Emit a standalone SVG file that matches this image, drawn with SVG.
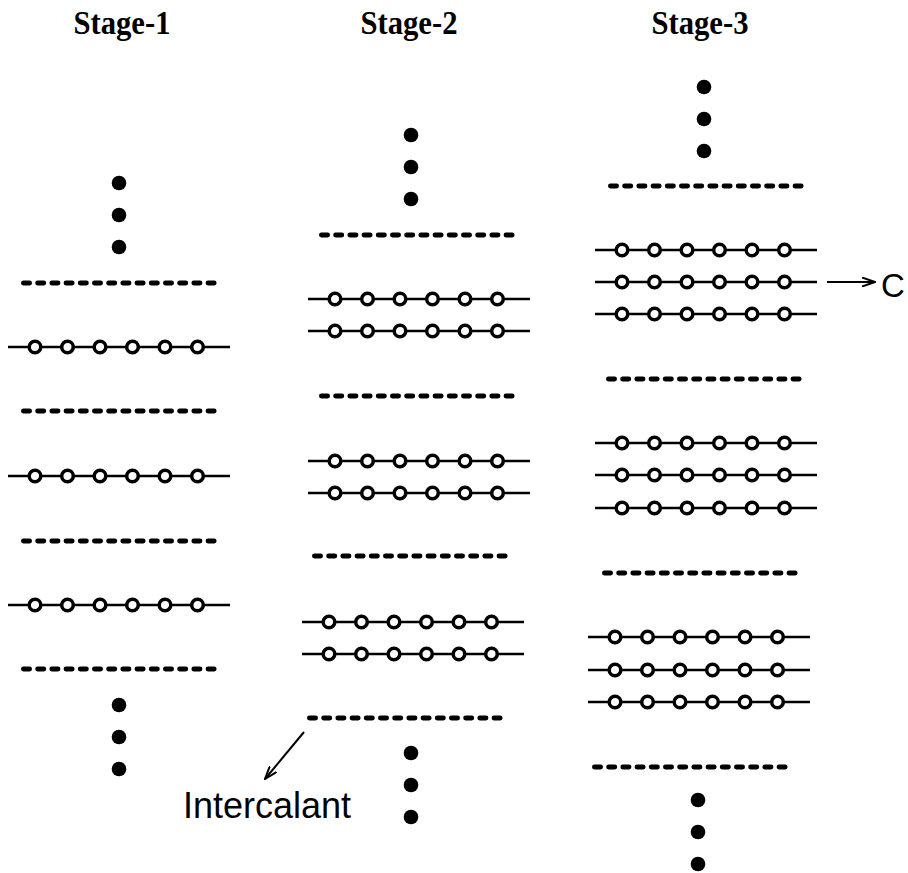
<svg xmlns="http://www.w3.org/2000/svg" xmlns:xlink="http://www.w3.org/1999/xlink" width="908" height="873" viewBox="0 0 908 873">
  <style>
    .title { font-family: "Liberation Serif", "Times New Roman", serif; font-weight: bold; font-size: 34px; fill: #000; text-anchor: middle; }
    .label { font-family: "Liberation Sans", Arial, sans-serif; fill: #000; }
    .gap { stroke: #000; stroke-width: 4.8; stroke-linecap: round; stroke-dasharray: 6.2 8; fill: none; }
    .host { stroke: #000; stroke-width: 2.5; fill: none; }
    .atom { stroke: #000; stroke-width: 3.5; fill: #fff; }
    .dot { fill: #000; }
    .arrow { stroke: #000; stroke-width: 2; fill: none; marker-end: url(#head); }
  </style>
  <defs>
    <!-- open arrowhead -->
    <marker id="head" viewBox="0 0 14 10" refX="13" refY="5" markerWidth="14" markerHeight="10" markerUnits="userSpaceOnUse" orient="auto">
      <path d="M0,0.5 L13,5 L0,9.5" fill="none" stroke="#000" stroke-width="2"/>
    </marker>
    <!-- host layer: line with six atoms -->
    <g id="layer">
      <line class="host" x1="0" y1="0" x2="222" y2="0"/>
      <circle class="atom" cx="27" cy="0" r="5.8"/>
      <circle class="atom" cx="59.5" cy="0" r="5.8"/>
      <circle class="atom" cx="92" cy="0" r="5.8"/>
      <circle class="atom" cx="124.5" cy="0" r="5.8"/>
      <circle class="atom" cx="157" cy="0" r="5.8"/>
      <circle class="atom" cx="189.5" cy="0" r="5.8"/>
    </g>
    <!-- intercalant gallery -->
    <line id="gallery" class="gap" x1="2.4" y1="0" x2="193.2" y2="0"/>
    <!-- vertical ellipsis -->
    <g id="more">
      <circle class="dot" cx="0" cy="0" r="7.3"/>
      <circle class="dot" cx="0" cy="32" r="7.3"/>
      <circle class="dot" cx="0" cy="64" r="7.3"/>
    </g>
  </defs>

  <g id="stage-1">
    <text class="title" x="122" y="34" textLength="97" lengthAdjust="spacingAndGlyphs">Stage-1</text>
    <use xlink:href="#more" x="119" y="183"/>
    <use xlink:href="#gallery" x="21" y="283"/>
    <use xlink:href="#layer" x="8" y="347"/>
    <use xlink:href="#gallery" x="21" y="411"/>
    <use xlink:href="#layer" x="8" y="476"/>
    <use xlink:href="#gallery" x="21" y="541"/>
    <use xlink:href="#layer" x="8" y="605"/>
    <use xlink:href="#gallery" x="21" y="669"/>
    <use xlink:href="#more" x="119" y="705"/>
  </g>

  <g id="stage-2">
    <text class="title" x="409" y="34" textLength="97" lengthAdjust="spacingAndGlyphs">Stage-2</text>
    <use xlink:href="#more" x="411" y="135"/>
    <use xlink:href="#gallery" x="319" y="235"/>
    <use xlink:href="#layer" x="308" y="299"/>
    <use xlink:href="#layer" x="308" y="331"/>
    <use xlink:href="#gallery" x="319" y="396"/>
    <use xlink:href="#layer" x="308" y="461"/>
    <use xlink:href="#layer" x="308" y="493"/>
    <use xlink:href="#gallery" x="312" y="556"/>
    <use xlink:href="#layer" x="302" y="622"/>
    <use xlink:href="#layer" x="302" y="654"/>
    <use xlink:href="#gallery" x="307" y="718"/>
    <use xlink:href="#more" x="411" y="753"/>
  </g>

  <g id="stage-3">
    <text class="title" x="700" y="34" textLength="97" lengthAdjust="spacingAndGlyphs">Stage-3</text>
    <use xlink:href="#more" x="704" y="87"/>
    <use xlink:href="#gallery" x="608" y="186"/>
    <use xlink:href="#layer" x="595" y="250"/>
    <use xlink:href="#layer" x="595" y="282"/>
    <use xlink:href="#layer" x="595" y="314"/>
    <use xlink:href="#gallery" x="606" y="379"/>
    <use xlink:href="#layer" x="595" y="443"/>
    <use xlink:href="#layer" x="595" y="475"/>
    <use xlink:href="#layer" x="595" y="508"/>
    <use xlink:href="#gallery" x="602" y="573"/>
    <use xlink:href="#layer" x="588" y="637"/>
    <use xlink:href="#layer" x="588" y="670"/>
    <use xlink:href="#layer" x="588" y="702"/>
    <use xlink:href="#gallery" x="592" y="767"/>
    <use xlink:href="#more" x="698" y="800"/>
  </g>

  <g id="label-intercalant">
    <text class="label" x="183" y="818" font-size="36">Intercalant</text>
  </g>
  <g id="label-c">
    <text class="label" x="881" y="297" font-size="33">C</text>
  </g>

  <g id="connectors">
    <line class="arrow" x1="304" y1="732" x2="265" y2="779"/>
    <line class="arrow" x1="827" y1="282" x2="875" y2="282"/>
  </g>
</svg>
